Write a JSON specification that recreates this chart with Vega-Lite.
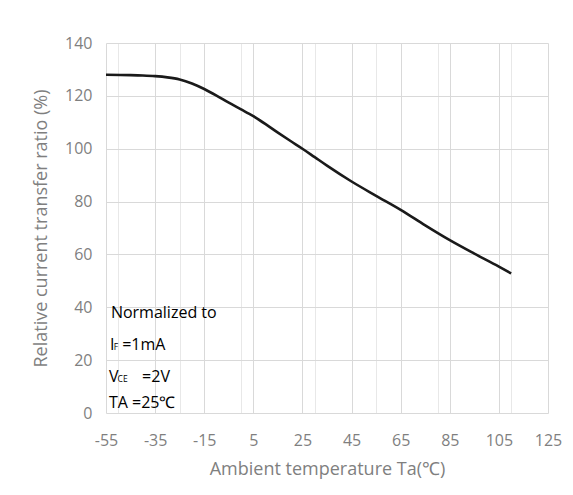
{
  "$schema": "https://vega.github.io/schema/vega-lite/v6.json",
  "width": 442,
  "height": 370,
  "autosize": "none",
  "padding": {"left": 106, "top": 43, "right": 25, "bottom": 82},
  "background": "white",
  "config": {"view": {"stroke": null}, "font": "Open Sans"},
  "datasets": {
    "curve": [
      {"t": -55, "v": 128}, {"t": -45, "v": 127.85}, {"t": -40, "v": 127.7},
      {"t": -35, "v": 127.45}, {"t": -30, "v": 127}, {"t": -25, "v": 126.2},
      {"t": -20, "v": 124.7}, {"t": -15, "v": 122.6}, {"t": -10, "v": 120.1},
      {"t": -5, "v": 117.4}, {"t": 0, "v": 114.9}, {"t": 5, "v": 112.3},
      {"t": 10, "v": 109.3}, {"t": 15, "v": 106.1}, {"t": 20, "v": 103},
      {"t": 25, "v": 100}, {"t": 30, "v": 96.8}, {"t": 35, "v": 93.6},
      {"t": 45, "v": 87.6}, {"t": 55, "v": 82.2}, {"t": 65, "v": 76.9},
      {"t": 75, "v": 71}, {"t": 85, "v": 65.4}, {"t": 95, "v": 60.3},
      {"t": 105, "v": 55.4}, {"t": 110, "v": 52.8}
    ],
    "notes": [
      {"t": -53, "v": 35.8, "label": "Normalized to"},
      {"t": -53.4, "v": 23.8, "label": "I"},
      {"t": -48.4, "v": 23.8, "label": "=1mA"},
      {"t": -53.8, "v": 11.6, "label": "V"},
      {"t": -40.3, "v": 11.6, "label": "=2V"},
      {"t": -53.8, "v": 2.0, "label": "TA =25℃"}
    ],
    "subs": [
      {"t": -51.8, "v": 23.8, "label": "F"},
      {"t": -50.3, "v": 11.6, "label": "CE"}
    ]
  },
  "resolve": {"axis": {"x": "independent", "y": "independent"}},
  "layer": [
    {
      "layer": [
        {
          "data": {"name": "notes"},
          "mark": {"type": "text", "align": "left", "baseline": "alphabetic", "fontSize": 16, "color": "#000000", "font": "Open Sans"},
          "encoding": {
            "x": {"field": "t", "type": "quantitative", "scale": {"domain": [-55, 125], "nice": false},
              "axis": {"orient": "bottom", "values": [-50, -45, -40, -30, -25, -20, -10, -5, 0, 10, 15, 20, 30, 35, 40, 50, 55, 60, 70, 75, 80, 90, 95, 100, 110, 115, 120],
                "labels": false, "ticks": false, "domain": false, "grid": true, "gridColor": "#e8e8e8", "gridWidth": 1, "title": null}},
            "y": {"field": "v", "type": "quantitative", "scale": {"domain": [0, 140], "nice": false}, "axis": null},
            "text": {"field": "label"}
          }
        },
        {
          "data": {"name": "subs"},
          "mark": {"type": "text", "align": "left", "baseline": "alphabetic", "fontSize": 8.5, "color": "#000000", "font": "Open Sans"},
          "encoding": {
            "x": {"field": "t", "type": "quantitative"},
            "y": {"field": "v", "type": "quantitative", "axis": null},
            "text": {"field": "label"}
          }
        }
      ]
    },
    {
      "data": {"name": "curve"},
      "mark": {"type": "line", "color": "#1a1a1a", "strokeWidth": 2.6, "interpolate": "monotone"},
      "encoding": {
        "x": {"field": "t", "type": "quantitative", "scale": {"domain": [-55, 125], "nice": false},
          "axis": {"orient": "bottom", "values": [-55, -35, -15, 5, 25, 45, 65, 85, 105, 125], "labelExpr": "'' + datum.value", "labelFlush": false, "labelOverlap": false,
            "labelFontSize": 16, "labelColor": "#7f7f7f", "labelPadding": 19, "ticks": false, "domain": false,
            "grid": true, "gridColor": "#d9d9d9", "gridWidth": 1,
            "title": "Ambient temperature Ta(℃)", "titleFontSize": 18, "titleFontWeight": "normal", "titleColor": "#7f7f7f", "titlePadding": 12}},
        "y": {"field": "v", "type": "quantitative", "scale": {"domain": [0, 140], "nice": false},
          "axis": {"orient": "left", "values": [0, 20, 40, 60, 80, 100, 120, 140], "labelFontSize": 16, "labelColor": "#7f7f7f", "labelPadding": 14,
            "ticks": false, "domain": false, "grid": true, "gridColor": "#d9d9d9", "gridWidth": 1,
            "title": "Relative current transfer ratio (%)", "titleFontSize": 18, "titleFontWeight": "normal", "titleColor": "#7f7f7f", "titlePadding": 14}}
      }
    }
  ]
}
